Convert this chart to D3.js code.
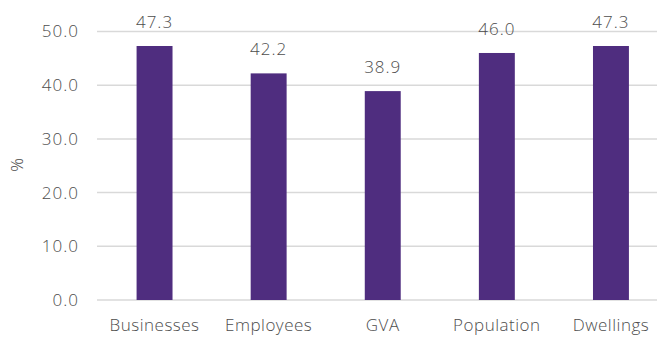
<!DOCTYPE html>
<html>
<head>
<meta charset="utf-8">
<script src="https://cdn.jsdelivr.net/npm/d3@7"></script>
<style>
  body { margin: 0; background: #fff; }
  text { font-family: "Open Sans", Lato, sans-serif; font-weight: 300; fill: #4d4d4d; }
</style>
</head>
<body>
<div id="chart"></div>
<script>
// data
const categories = ["Businesses", "Employees", "GVA", "Population", "Dwellings"];
const values = [47.3, 42.2, 38.9, 46.0, 47.3];
const yTicks = [0, 10, 20, 30, 40, 50];

const width = 657, height = 337;

const svg = d3.select("#chart").append("svg")
    .attr("width", width)
    .attr("height", height);

const x = d3.scaleBand()
    .domain(categories)
    .range([97.5, 668])
    .paddingInner(0.685)
    .paddingOuter(0.3425);

const y = d3.scaleLinear()
    .domain([0, 50])
    .range([300, 31.5]);

// gridlines
svg.append("g")
    .selectAll("line")
    .data(yTicks)
    .join("line")
    .attr("x1", 97)
    .attr("x2", width)
    .attr("y1", d => y(d))
    .attr("y2", d => y(d))
    .attr("stroke", "#d9d9d9")
    .attr("stroke-width", 1.5);

// y tick labels
svg.append("g")
    .selectAll("text")
    .data(yTicks)
    .join("text")
    .attr("x", 79)
    .attr("y", d => y(d))
    .attr("dy", "0.35em")
    .attr("text-anchor", "end")
    .style("font-size", "17px")
    .style("letter-spacing", "1px")
    .text(d => d3.format(".1f")(d));

// axis title
svg.append("text")
    .attr("transform", "translate(23,165) rotate(-90)")
    .attr("text-anchor", "middle")
    .style("font-size", "17px")
    .text("%");

// bars
svg.append("g")
    .selectAll("rect")
    .data(values)
    .join("rect")
    .attr("x", (d, i) => x(categories[i]))
    .attr("y", d => y(d))
    .attr("width", x.bandwidth())
    .attr("height", d => y(0) - y(d))
    .attr("fill", "#4f2d7f");

// value labels
svg.append("g")
    .selectAll("text")
    .data(values)
    .join("text")
    .attr("x", (d, i) => x(categories[i]) + x.bandwidth() / 2)
    .attr("y", d => y(d) - 18)
    .attr("text-anchor", "middle")
    .style("font-size", "17px")
    .style("letter-spacing", "1px")
    .text(d => d3.format(".1f")(d));

// category labels
svg.append("g")
    .selectAll("text")
    .data(categories)
    .join("text")
    .attr("x", d => x(d) + x.bandwidth() / 2)
    .attr("y", 331)
    .attr("text-anchor", "middle")
    .style("font-size", "17px")
    .style("letter-spacing", "0.5px")
    .text(d => d);
</script>
</body>
</html>
